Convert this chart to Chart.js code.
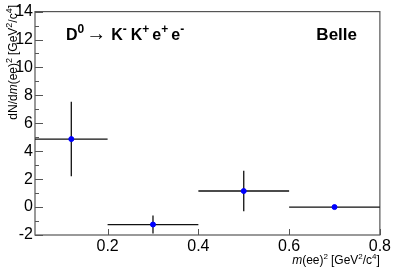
<!DOCTYPE html>
<html>
<head>
<meta charset="utf-8">
<script src="https://cdn.jsdelivr.net/npm/chart.js@4/dist/chart.umd.min.js"></script>
<style>
html,body{margin:0;padding:0;background:#fff;}
#wrap{width:393px;height:267px;position:relative;}
</style>
</head>
<body>
<div id="wrap"><canvas id="c"></canvas></div>
<script>
// Data
const binLow = [0.04, 0.2, 0.4, 0.6];
const binHigh = [0.2, 0.4, 0.6, 0.8];
const binCenters = [0.12, 0.3, 0.5, 0.7];
const yValues = [4.87, -1.25, 1.15, 0.0];
const yErrors = [2.67, 0.65, 1.45, 0.05];
const xTickValues = [0.2, 0.4, 0.6, 0.8];
const xTickLabels = ['0.2', '0.4', '0.6', '0.8'];
const yMin = -2, yMax = 14;

const FONT = '"Liberation Sans", Arial, Helvetica, sans-serif';

function drawRich(ctx, parts, x, y, align) {
  let total = 0;
  const widths = parts.map(p => {
    ctx.font = (p.italic ? 'italic ' : '') + (p.bold ? 'bold ' : '') + p.size + 'px ' + FONT;
    const w = ctx.measureText(p.t).width + (p.gap || 0);
    total += w;
    return w;
  });
  let cx = align === 'right' ? x - total : x;
  parts.forEach((p, i) => {
    ctx.font = (p.italic ? 'italic ' : '') + (p.bold ? 'bold ' : '') + p.size + 'px ' + FONT;
    ctx.fillText(p.t, cx, y + (p.dy || 0));
    cx += widths[i];
  });
}

const decor = {
  id: 'decor',
  beforeDatasetsDraw(chart) {
    const ctx = chart.ctx, xs = chart.scales.x, ys = chart.scales.y;
    const a = chart.chartArea;
    ctx.save();
    ctx.strokeStyle = '#555';
    ctx.lineWidth = 1.2;
    ctx.strokeRect(a.left, a.top, a.right - a.left, a.bottom - a.top);
    ctx.lineWidth = 1;
    for (let v = yMin; v <= yMax; v += 1) {
      const py = Math.round(ys.getPixelForValue(v)) + 0.5;
      const len = (v % 2 === 0) ? 8 : 4;
      ctx.beginPath(); ctx.moveTo(a.left, py); ctx.lineTo(a.left + len, py); ctx.stroke();
    }
    xTickValues.forEach(v => {
      const px = Math.round(xs.getPixelForValue(v)) + 0.5;
      ctx.beginPath(); ctx.moveTo(px, a.bottom); ctx.lineTo(px, a.bottom - 6); ctx.stroke();
    });
    ctx.strokeStyle = '#111';
    ctx.lineWidth = 1.3;
    for (let i = 0; i < yValues.length; i++) {
      const py = ys.getPixelForValue(yValues[i]);
      ctx.beginPath();
      ctx.moveTo(xs.getPixelForValue(binLow[i]), py);
      ctx.lineTo(xs.getPixelForValue(binHigh[i]), py);
      const px = xs.getPixelForValue(binCenters[i]);
      ctx.moveTo(px, ys.getPixelForValue(yValues[i] + yErrors[i]));
      ctx.lineTo(px, Math.min(a.bottom, ys.getPixelForValue(yValues[i] - yErrors[i])));
      ctx.stroke();
    }
    ctx.restore();
  },
  afterDraw(chart) {
    const ctx = chart.ctx, a = chart.chartArea;
    ctx.save();
    ctx.fillStyle = '#000';
    ctx.textBaseline = 'alphabetic';
    drawRich(ctx, [
      {t: 'D', size: 16, bold: true},
      {t: '0', size: 12, bold: true, dy: -7, gap: 2},
      {t: '\u2192', size: 20, gap: 5},
      {t: 'K', size: 16, bold: true},
      {t: '-', size: 12, bold: true, dy: -7, gap: 4},
      {t: 'K', size: 16, bold: true},
      {t: '+', size: 12, bold: true, dy: -7, gap: 3},
      {t: 'e', size: 16, bold: true},
      {t: '+', size: 12, bold: true, dy: -7, gap: 3},
      {t: 'e', size: 16, bold: true},
      {t: '-', size: 12, bold: true, dy: -7}
    ], 66, 40, 'left');
    drawRich(ctx, [{t: 'Belle', size: 17, bold: true}], 357, 40, 'right');
    drawRich(ctx, [
      {t: 'm', size: 12, italic: true},
      {t: '(ee)', size: 12},
      {t: '2', size: 8, dy: -5, gap: 3},
      {t: '[GeV', size: 12},
      {t: '2', size: 8, dy: -5},
      {t: '/c', size: 12},
      {t: '4', size: 8, dy: -5},
      {t: ']', size: 12}
    ], a.right, 264, 'right');
    ctx.translate(17, 5);
    ctx.rotate(-Math.PI / 2);
    drawRich(ctx, [
      {t: 'dN/d', size: 12},
      {t: 'm', size: 12, italic: true},
      {t: '(ee)', size: 12},
      {t: '2', size: 9, dy: -5, gap: 3},
      {t: '[GeV', size: 12},
      {t: '2', size: 9, dy: -5},
      {t: '/c', size: 12},
      {t: '4', size: 9, dy: -5},
      {t: ']', size: 12}
    ], 0, 0, 'right');
    ctx.restore();
  }
};

new Chart(document.getElementById('c'), {
  type: 'scatter',
  data: {
    datasets: [{
      data: binCenters.map((x, i) => ({x: x, y: yValues[i]})),
      backgroundColor: '#0000ff',
      borderColor: '#0000ff',
      pointRadius: 2.5,
      pointHoverRadius: 2.5
    }]
  },
  options: {
    responsive: true,
    maintainAspectRatio: false,
    animation: false,
    events: [],
    layout: {padding: {top: 6, right: 12, left: 0, bottom: 0}},
    plugins: {legend: {display: false}, tooltip: {enabled: false}},
    scales: {
      x: {
        type: 'linear', min: 0.04, max: 0.8,
        afterBuildTicks: s => { s.ticks = xTickValues.map(v => ({value: v})); },
        afterFit: s => { s.height = 32; },
        grid: {display: false, drawTicks: false},
        border: {display: false},
        ticks: {
          padding: 2, maxRotation: 0, autoSkip: false, color: '#000',
          font: {family: FONT, size: 16},
          callback: (v) => xTickLabels[xTickValues.indexOf(v)] ?? ''
        }
      },
      y: {
        min: yMin, max: yMax,
        afterFit: s => { s.width = 35; },
        grid: {display: false, drawTicks: false},
        border: {display: false},
        ticks: {
          stepSize: 2, padding: 2, color: '#000',
          font: {family: FONT, size: 16}
        }
      }
    }
  },
  plugins: [decor]
});
</script>
</body>
</html>
